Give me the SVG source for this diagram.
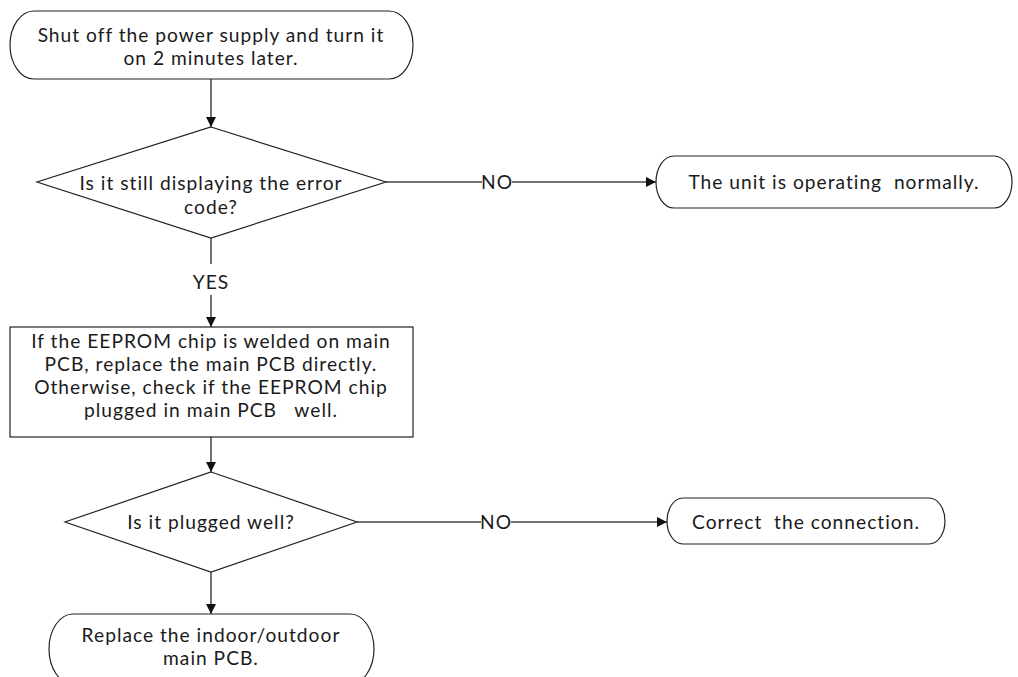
<svg xmlns="http://www.w3.org/2000/svg" width="1018" height="677" viewBox="0 0 1018 677">
<style>
.shape{fill:#fff;stroke:#222;stroke-width:1.2}
.conn{fill:none;stroke:#444;stroke-width:1.5}
text{font-family:Lato,"Open Sans","Liberation Sans",sans-serif;font-size:19.2px;letter-spacing:1px;fill:#1a1a1a;text-anchor:middle}
</style>
<defs>
<marker id="arr" viewBox="0 0 10 10" refX="10" refY="5" markerWidth="10" markerHeight="10" markerUnits="userSpaceOnUse" orient="auto">
<path d="M0,0 L10,5 L0,10 Z" fill="#111"/>
</marker>
</defs>
<rect width="1018" height="677" fill="#fff"/>
<g id="connectors">
<path class="conn" d="M211,79 L211,127" marker-end="url(#arr)"/>
<path class="conn" d="M386,182 L482,182"/>
<path class="conn" d="M512,182 L656,182" marker-end="url(#arr)"/>
<text x="497" y="189">NO</text>
<path class="conn" d="M211,238 L211,264"/>
<text x="211" y="289">YES</text>
<path class="conn" d="M211,295 L211,327" marker-end="url(#arr)"/>
<path class="conn" d="M211,437 L211,472" marker-end="url(#arr)"/>
<path class="conn" d="M357,522 L481,522"/>
<path class="conn" d="M511,522 L667,522" marker-end="url(#arr)"/>
<text x="496" y="529">NO</text>
<path class="conn" d="M211,572 L211,614" marker-end="url(#arr)"/>
</g>
<g id="start">
<rect class="shape" x="10" y="11" width="403" height="68" rx="24" ry="34"/>
<text x="211" y="42">Shut off the power supply and turn it</text>
<text x="211" y="65">on 2 minutes later.</text>
</g>
<g id="decision1">
<polygon class="shape" points="211,127 386,182 211,238 37,182"/>
<text x="211" y="190">Is it still displaying the error</text>
<text x="211" y="214">code?</text>
</g>
<g id="normal">
<rect class="shape" x="656" y="156" width="356" height="52" rx="18" ry="26"/>
<text x="834" y="189" xml:space="preserve">The unit is operating  normally.</text>
</g>
<g id="check">
<rect class="shape" x="10" y="327" width="403" height="110"/>
<text x="211" y="348">If the EEPROM chip is welded on main</text>
<text x="211" y="371">PCB, replace the main PCB directly.</text>
<text x="211" y="394">Otherwise, check if the EEPROM chip</text>
<text x="211" y="417" xml:space="preserve">plugged in main PCB   well.</text>
</g>
<g id="decision2">
<polygon class="shape" points="211,472 357,522 211,572 65,522"/>
<text x="211" y="529">Is it plugged well?</text>
</g>
<g id="correct">
<rect class="shape" x="667" y="498" width="278" height="46" rx="16" ry="23"/>
<text x="806" y="529" xml:space="preserve">Correct  the connection.</text>
</g>
<g id="replace">
<rect class="shape" x="49" y="614" width="325" height="70" rx="24" ry="35"/>
<text x="211" y="642">Replace the indoor/outdoor</text>
<text x="211" y="665">main PCB.</text>
</g>
</svg>
